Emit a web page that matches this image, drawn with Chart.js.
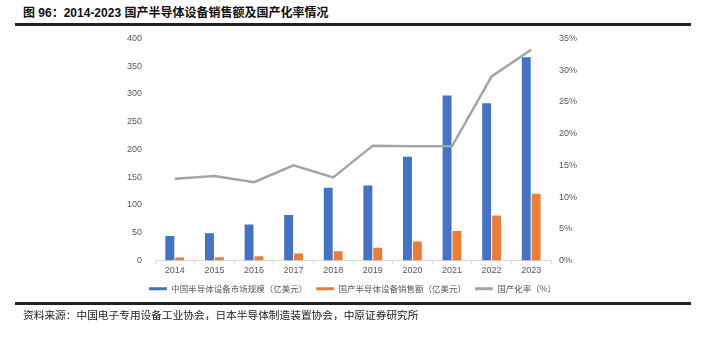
<!DOCTYPE html>
<html><head><meta charset="utf-8">
<script src="https://cdn.jsdelivr.net/npm/chart.js@4/dist/chart.umd.min.js"></script>
<style>
html,body{margin:0;padding:0;background:#fff;width:705px;height:342px;overflow:hidden;position:relative;}
#title{position:absolute;left:23px;top:3px;font:bold 12px "Liberation Sans","Noto Sans CJK SC",sans-serif;color:#111;white-space:nowrap;}
#topline{position:absolute;left:15px;top:23px;width:676px;height:2.5px;background:#222;}
#botline{position:absolute;left:15px;top:302px;width:676px;height:2.5px;background:#222;}
#src{position:absolute;left:23px;top:307px;font:10.7px "Noto Sans CJK SC",sans-serif;color:#222;white-space:nowrap;}
#wrap{position:absolute;left:0;top:28px;width:705px;height:275px;}
</style></head><body>
<div id="title">图 96：2014-2023 国产半导体设备销售额及国产化率情况</div>
<div id="topline"></div>
<div id="wrap"><canvas id="c"></canvas></div>
<div id="botline"></div>
<div id="src">资料来源：中国电子专用设备工业协会，日本半导体制造装置协会，中原证券研究所</div>
<script>
const categories = ['2014','2015','2016','2017','2018','2019','2020','2021','2022','2023'];
const marketSize = [44, 49, 65, 82, 131, 135, 187, 297, 283, 366];
const domesticSales = [5.3, 6, 7.6, 12.4, 16.5, 23, 34, 53, 81, 120];
const localizationRate = [12.9, 13.3, 12.35, 15.0, 13.1, 18.1, 18.0, 18.0, 29.0, 33.2];
const seriesNames = ['中国半导体设备市场规模（亿美元）','国产半导体设备销售额（亿美元）','国产化率（%）'];
const leftTicks = [0,50,100,150,200,250,300,350,400];
const rightTicks = [0,5,10,15,20,25,30,35];

const tickFont = {family:'"Liberation Sans", Arial, sans-serif', size:9};
const tickColor = '#595959';

new Chart(document.getElementById('c'), {
  type:'bar',
  data:{
    labels:categories,
    datasets:[
      {label:seriesNames[0], data:marketSize, backgroundColor:'#4472C4', yAxisID:'y', order:1, categoryPercentage:0.5, barPercentage:0.9},
      {label:seriesNames[1], data:domesticSales, backgroundColor:'#ED7D31', yAxisID:'y', order:1, categoryPercentage:0.5, barPercentage:0.9},
      {label:seriesNames[2], data:localizationRate, type:'line', borderColor:'#A5A5A5', backgroundColor:'#A5A5A5', borderWidth:2.5, pointRadius:0, tension:0, yAxisID:'y1', order:0}
    ]
  },
  options:{
    responsive:true, maintainAspectRatio:false, animation:false,
    devicePixelRatio:1,
    layout:{padding:{top:1,left:0,right:0,bottom:0}},
    plugins:{
      tooltip:{enabled:false},
      legend:{
        position:'bottom',
        labels:{
          boxWidth:18, boxHeight:3, padding:9, color:'#595959',
          font:{family:'"Noto Sans CJK SC", sans-serif', size:8.5},
          sort:(a,b)=>a.datasetIndex-b.datasetIndex,
          generateLabels:(chart)=>{
            const items = Chart.defaults.plugins.legend.labels.generateLabels(chart);
            items.forEach(it=>{ it.lineWidth=0; it.strokeStyle='rgba(0,0,0,0)'; const ds=chart.data.datasets[it.datasetIndex]; it.fillStyle=ds.type==='line'?ds.borderColor:ds.backgroundColor; });
            return items;
          }
        }
      }
    },
    scales:{
      x:{
        offset:true,
        grid:{display:true, drawOnChartArea:false, drawTicks:true, tickLength:4, color:'#D9D9D9', offset:true},
        border:{display:true, color:'#D9D9D9'},
        ticks:{color:tickColor, font:tickFont, padding:1, maxRotation:0},
        afterFit:(s)=>{ s.height = 15; }
      },
      y:{
        position:'left', min:0, max:400,
        afterBuildTicks:(s)=>{ s.ticks = leftTicks.map(v=>({value:v})); },
        grid:{display:false}, border:{display:false},
        ticks:{color:tickColor, font:tickFont, padding:5},
        afterFit:(s)=>{ s.width = 155; }
      },
      y1:{
        position:'right', min:0, max:35,
        afterBuildTicks:(s)=>{ s.ticks = rightTicks.map(v=>({value:v})); },
        grid:{display:false}, border:{display:false},
        ticks:{color:tickColor, font:tickFont, padding:0, callback:(v)=>v+'%'},
        afterFit:(s)=>{ s.width = 154; }
      }
    }
  }
});
</script>
</body></html>
